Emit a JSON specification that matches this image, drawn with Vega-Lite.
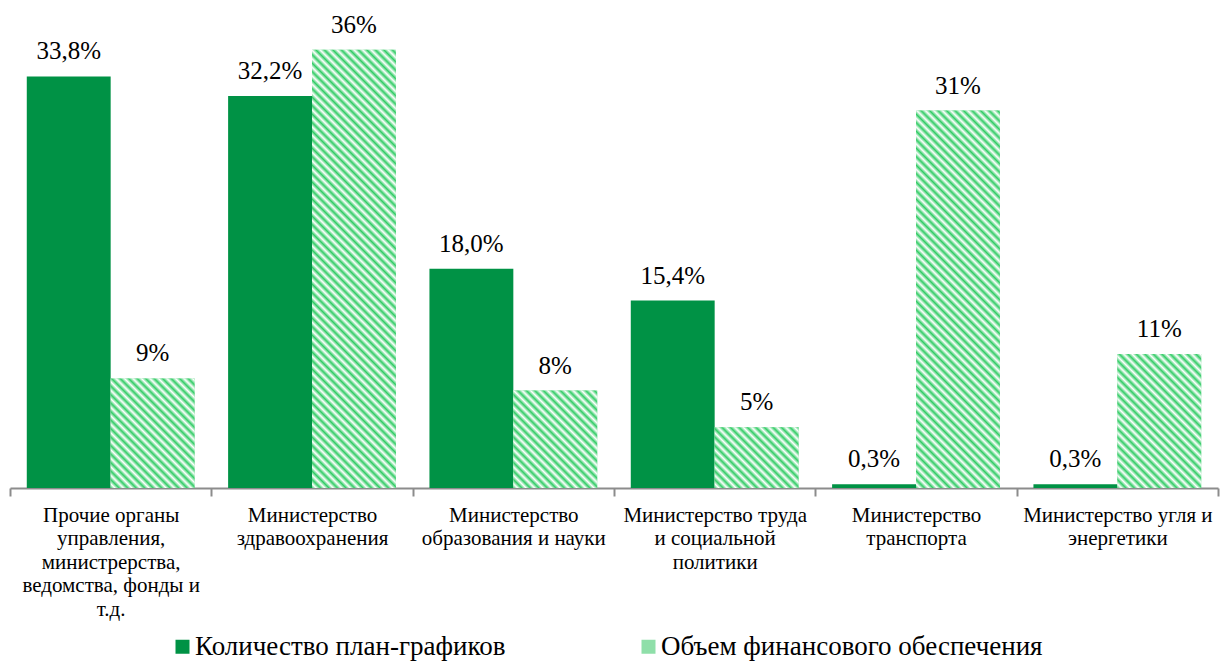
{
  "$schema": "https://vega.github.io/schema/vega-lite/v6.json",
  "autosize": {"type": "none"},
  "padding": {"left": 10, "top": 1, "right": 14, "bottom": 173},
  "width": 1208,
  "height": 487,
  "background": "white",
  "config": {
    "view": {"stroke": null},
    "font": "Liberation Serif"
  },
  "data": {
    "values": [
      {"category": "Прочие органы|управления,|министрерства,|ведомства, фонды и|т.д.", "series": "Количество план-графиков", "value": 33.8, "label": "33,8%"},
      {"category": "Прочие органы|управления,|министрерства,|ведомства, фонды и|т.д.", "series": "Объем финансового обеспечения", "value": 9, "label": "9%"},
      {"category": "Министерство|здравоохранения", "series": "Количество план-графиков", "value": 32.2, "label": "32,2%"},
      {"category": "Министерство|здравоохранения", "series": "Объем финансового обеспечения", "value": 36, "label": "36%"},
      {"category": "Министерство|образования и науки", "series": "Количество план-графиков", "value": 18.0, "label": "18,0%"},
      {"category": "Министерство|образования и науки", "series": "Объем финансового обеспечения", "value": 8, "label": "8%"},
      {"category": "Министерство труда|и социальной|политики", "series": "Количество план-графиков", "value": 15.4, "label": "15,4%"},
      {"category": "Министерство труда|и социальной|политики", "series": "Объем финансового обеспечения", "value": 5, "label": "5%"},
      {"category": "Министерство|транспорта", "series": "Количество план-графиков", "value": 0.3, "label": "0,3%"},
      {"category": "Министерство|транспорта", "series": "Объем финансового обеспечения", "value": 31, "label": "31%"},
      {"category": "Министерство угля и|энергетики", "series": "Количество план-графиков", "value": 0.3, "label": "0,3%"},
      {"category": "Министерство угля и|энергетики", "series": "Объем финансового обеспечения", "value": 11, "label": "11%"}
    ]
  },
  "encoding": {
    "x": {
      "field": "category", "type": "nominal", "sort": null,
      "scale": {"paddingInner": 0, "paddingOuter": 0},
      "axis": {
        "title": null, "labelAngle": 0,
        "labelExpr": "split(datum.label, '|')",
        "labelFont": "Liberation Serif",
        "labelFontSize": 21, "labelColor": "#000000",
        "labelLineHeight": 23.5, "labelPadding": 8, "labelLimit": 0,
        "tickBand": "extent", "tickSize": 8, "tickColor": "#8c8c8c", "tickWidth": 2,
        "domainColor": "#8c8c8c", "domainWidth": 2
      }
    },
    "xOffset": {"field": "series", "type": "nominal", "sort": null, "scale": {"paddingInner": 0, "paddingOuter": 0.2}},
    "y": {
      "field": "value", "type": "quantitative",
      "scale": {"domain": [0, 40], "nice": false},
      "axis": null
    }
  },
  "layer": [
    {
      "mark": {"type": "bar"},
      "encoding": {
        "color": {
          "field": "series", "type": "nominal", "sort": null,
          "scale": {"domain": ["Количество план-графиков", "Объем финансового обеспечения"], "range": ["#009245", "#8fdfa9"]},
          "legend": {
            "title": null, "orient": "none", "direction": "horizontal",
            "legendX": 159, "legendY": 632,
            "symbolType": "square", "symbolSize": 196, "symbolStrokeWidth": 0,
            "labelFont": "Liberation Serif",
            "labelFontSize": 27, "labelColor": "#000000",
            "labelOffset": -1, "columnPadding": 129, "labelLimit": 0
          }
        }
      }
    },
    {
      "transform": [{"filter": {"and": [{"field": "series", "equal": "Объем финансового обеспечения"}, {"field": "category", "equal": "Прочие органы|управления,|министрерства,|ведомства, фонды и|т.д."}]}}],
      "mark": {"type": "bar", "fill": {"gradient": "linear", "x1": 0, "y1": 1, "x2": 3.7443, "y2": -3.8907, "stops": [
        {"offset": 0, "color": "#3c6"}, {"offset": 0.005, "color": "#fff"}, {"offset": 0.01, "color": "#3c6"}, {"offset": 0.015, "color": "#fff"},
        {"offset": 0.02, "color": "#3c6"}, {"offset": 0.025, "color": "#fff"}, {"offset": 0.03, "color": "#3c6"}, {"offset": 0.035, "color": "#fff"},
        {"offset": 0.04, "color": "#3c6"}, {"offset": 0.045, "color": "#fff"}, {"offset": 0.05, "color": "#3c6"}, {"offset": 0.055, "color": "#fff"},
        {"offset": 0.06, "color": "#3c6"}, {"offset": 0.065, "color": "#fff"}, {"offset": 0.07, "color": "#3c6"}, {"offset": 0.075, "color": "#fff"},
        {"offset": 0.08, "color": "#3c6"}, {"offset": 0.085, "color": "#fff"}, {"offset": 0.09, "color": "#3c6"}, {"offset": 0.095, "color": "#fff"},
        {"offset": 0.1, "color": "#3c6"}, {"offset": 0.105, "color": "#fff"}, {"offset": 0.11, "color": "#3c6"}, {"offset": 0.115, "color": "#fff"},
        {"offset": 0.12, "color": "#3c6"}, {"offset": 0.125, "color": "#fff"}, {"offset": 0.13, "color": "#3c6"}, {"offset": 0.135, "color": "#fff"},
        {"offset": 0.14, "color": "#3c6"}, {"offset": 0.145, "color": "#fff"}, {"offset": 0.15, "color": "#3c6"}, {"offset": 0.155, "color": "#fff"},
        {"offset": 0.16, "color": "#3c6"}, {"offset": 0.165, "color": "#fff"}, {"offset": 0.17, "color": "#3c6"}, {"offset": 0.175, "color": "#fff"},
        {"offset": 0.18, "color": "#3c6"}, {"offset": 0.185, "color": "#fff"}, {"offset": 0.19, "color": "#3c6"}, {"offset": 0.195, "color": "#fff"},
        {"offset": 0.2, "color": "#3c6"}, {"offset": 0.205, "color": "#fff"}, {"offset": 0.21, "color": "#3c6"}, {"offset": 0.215, "color": "#fff"},
        {"offset": 0.22, "color": "#3c6"}, {"offset": 0.225, "color": "#fff"}, {"offset": 0.23, "color": "#3c6"}, {"offset": 0.235, "color": "#fff"}
      ]}}
    },
    {
      "transform": [{"filter": {"and": [{"field": "series", "equal": "Объем финансового обеспечения"}, {"field": "category", "equal": "Министерство|здравоохранения"}]}}],
      "mark": {"type": "bar", "fill": {"gradient": "linear", "x1": 0, "y1": 1, "x2": 0.35807, "y2": -0.8708, "stops": [
        {"offset": 0, "color": "#3c6"}, {"offset": 0.005, "color": "#fff"}, {"offset": 0.01, "color": "#3c6"}, {"offset": 0.015, "color": "#fff"},
        {"offset": 0.02, "color": "#3c6"}, {"offset": 0.025, "color": "#fff"}, {"offset": 0.03, "color": "#3c6"}, {"offset": 0.035, "color": "#fff"},
        {"offset": 0.04, "color": "#3c6"}, {"offset": 0.045, "color": "#fff"}, {"offset": 0.05, "color": "#3c6"}, {"offset": 0.055, "color": "#fff"},
        {"offset": 0.06, "color": "#3c6"}, {"offset": 0.065, "color": "#fff"}, {"offset": 0.07, "color": "#3c6"}, {"offset": 0.075, "color": "#fff"},
        {"offset": 0.08, "color": "#3c6"}, {"offset": 0.085, "color": "#fff"}, {"offset": 0.09, "color": "#3c6"}, {"offset": 0.095, "color": "#fff"},
        {"offset": 0.1, "color": "#3c6"}, {"offset": 0.105, "color": "#fff"}, {"offset": 0.11, "color": "#3c6"}, {"offset": 0.115, "color": "#fff"},
        {"offset": 0.12, "color": "#3c6"}, {"offset": 0.125, "color": "#fff"}, {"offset": 0.13, "color": "#3c6"}, {"offset": 0.135, "color": "#fff"},
        {"offset": 0.14, "color": "#3c6"}, {"offset": 0.145, "color": "#fff"}, {"offset": 0.15, "color": "#3c6"}, {"offset": 0.155, "color": "#fff"},
        {"offset": 0.16, "color": "#3c6"}, {"offset": 0.165, "color": "#fff"}, {"offset": 0.17, "color": "#3c6"}, {"offset": 0.175, "color": "#fff"},
        {"offset": 0.18, "color": "#3c6"}, {"offset": 0.185, "color": "#fff"}, {"offset": 0.19, "color": "#3c6"}, {"offset": 0.195, "color": "#fff"},
        {"offset": 0.2, "color": "#3c6"}, {"offset": 0.205, "color": "#fff"}, {"offset": 0.21, "color": "#3c6"}, {"offset": 0.215, "color": "#fff"},
        {"offset": 0.22, "color": "#3c6"}, {"offset": 0.225, "color": "#fff"}, {"offset": 0.23, "color": "#3c6"}, {"offset": 0.235, "color": "#fff"},
        {"offset": 0.24, "color": "#3c6"}, {"offset": 0.245, "color": "#fff"}, {"offset": 0.25, "color": "#3c6"}, {"offset": 0.255, "color": "#fff"},
        {"offset": 0.26, "color": "#3c6"}, {"offset": 0.265, "color": "#fff"}, {"offset": 0.27, "color": "#3c6"}, {"offset": 0.275, "color": "#fff"},
        {"offset": 0.28, "color": "#3c6"}, {"offset": 0.285, "color": "#fff"}, {"offset": 0.29, "color": "#3c6"}, {"offset": 0.295, "color": "#fff"},
        {"offset": 0.3, "color": "#3c6"}, {"offset": 0.305, "color": "#fff"}, {"offset": 0.31, "color": "#3c6"}, {"offset": 0.315, "color": "#fff"},
        {"offset": 0.32, "color": "#3c6"}, {"offset": 0.325, "color": "#fff"}, {"offset": 0.33, "color": "#3c6"}, {"offset": 0.335, "color": "#fff"},
        {"offset": 0.34, "color": "#3c6"}, {"offset": 0.345, "color": "#fff"}, {"offset": 0.35, "color": "#3c6"}, {"offset": 0.355, "color": "#fff"},
        {"offset": 0.36, "color": "#3c6"}, {"offset": 0.365, "color": "#fff"}, {"offset": 0.37, "color": "#3c6"}, {"offset": 0.375, "color": "#fff"},
        {"offset": 0.38, "color": "#3c6"}, {"offset": 0.385, "color": "#fff"}, {"offset": 0.39, "color": "#3c6"}, {"offset": 0.395, "color": "#fff"},
        {"offset": 0.4, "color": "#3c6"}, {"offset": 0.405, "color": "#fff"}, {"offset": 0.41, "color": "#3c6"}, {"offset": 0.415, "color": "#fff"},
        {"offset": 0.42, "color": "#3c6"}, {"offset": 0.425, "color": "#fff"}, {"offset": 0.43, "color": "#3c6"}, {"offset": 0.435, "color": "#fff"},
        {"offset": 0.44, "color": "#3c6"}, {"offset": 0.445, "color": "#fff"}, {"offset": 0.45, "color": "#3c6"}, {"offset": 0.455, "color": "#fff"},
        {"offset": 0.46, "color": "#3c6"}, {"offset": 0.465, "color": "#fff"}, {"offset": 0.47, "color": "#3c6"}, {"offset": 0.475, "color": "#fff"},
        {"offset": 0.48, "color": "#3c6"}, {"offset": 0.485, "color": "#fff"}, {"offset": 0.49, "color": "#3c6"}, {"offset": 0.495, "color": "#fff"},
        {"offset": 0.5, "color": "#3c6"}, {"offset": 0.505, "color": "#fff"}, {"offset": 0.51, "color": "#3c6"}, {"offset": 0.515, "color": "#fff"},
        {"offset": 0.52, "color": "#3c6"}, {"offset": 0.525, "color": "#fff"}, {"offset": 0.53, "color": "#3c6"}, {"offset": 0.535, "color": "#fff"},
        {"offset": 0.54, "color": "#3c6"}, {"offset": 0.545, "color": "#fff"}, {"offset": 0.55, "color": "#3c6"}, {"offset": 0.555, "color": "#fff"},
        {"offset": 0.56, "color": "#3c6"}, {"offset": 0.565, "color": "#fff"}, {"offset": 0.57, "color": "#3c6"}, {"offset": 0.575, "color": "#fff"},
        {"offset": 0.58, "color": "#3c6"}, {"offset": 0.585, "color": "#fff"}, {"offset": 0.59, "color": "#3c6"}, {"offset": 0.595, "color": "#fff"},
        {"offset": 0.6, "color": "#3c6"}, {"offset": 0.605, "color": "#fff"}, {"offset": 0.61, "color": "#3c6"}, {"offset": 0.615, "color": "#fff"},
        {"offset": 0.62, "color": "#3c6"}
      ]}}
    },
    {
      "transform": [{"filter": {"and": [{"field": "series", "equal": "Объем финансового обеспечения"}, {"field": "category", "equal": "Министерство|образования и науки"}]}}],
      "mark": {"type": "bar", "fill": {"gradient": "linear", "x1": 0, "y1": 1, "x2": 4.3153, "y2": -4.0103, "stops": [
        {"offset": 0, "color": "#3c6"}, {"offset": 0.005, "color": "#fff"}, {"offset": 0.01, "color": "#3c6"}, {"offset": 0.015, "color": "#fff"},
        {"offset": 0.02, "color": "#3c6"}, {"offset": 0.025, "color": "#fff"}, {"offset": 0.03, "color": "#3c6"}, {"offset": 0.035, "color": "#fff"},
        {"offset": 0.04, "color": "#3c6"}, {"offset": 0.045, "color": "#fff"}, {"offset": 0.05, "color": "#3c6"}, {"offset": 0.055, "color": "#fff"},
        {"offset": 0.06, "color": "#3c6"}, {"offset": 0.065, "color": "#fff"}, {"offset": 0.07, "color": "#3c6"}, {"offset": 0.075, "color": "#fff"},
        {"offset": 0.08, "color": "#3c6"}, {"offset": 0.085, "color": "#fff"}, {"offset": 0.09, "color": "#3c6"}, {"offset": 0.095, "color": "#fff"},
        {"offset": 0.1, "color": "#3c6"}, {"offset": 0.105, "color": "#fff"}, {"offset": 0.11, "color": "#3c6"}, {"offset": 0.115, "color": "#fff"},
        {"offset": 0.12, "color": "#3c6"}, {"offset": 0.125, "color": "#fff"}, {"offset": 0.13, "color": "#3c6"}, {"offset": 0.135, "color": "#fff"},
        {"offset": 0.14, "color": "#3c6"}, {"offset": 0.145, "color": "#fff"}, {"offset": 0.15, "color": "#3c6"}, {"offset": 0.155, "color": "#fff"},
        {"offset": 0.16, "color": "#3c6"}, {"offset": 0.165, "color": "#fff"}, {"offset": 0.17, "color": "#3c6"}, {"offset": 0.175, "color": "#fff"},
        {"offset": 0.18, "color": "#3c6"}, {"offset": 0.185, "color": "#fff"}, {"offset": 0.19, "color": "#3c6"}, {"offset": 0.195, "color": "#fff"},
        {"offset": 0.2, "color": "#3c6"}, {"offset": 0.205, "color": "#fff"}, {"offset": 0.21, "color": "#3c6"}, {"offset": 0.215, "color": "#fff"}
      ]}}
    },
    {
      "transform": [{"filter": {"and": [{"field": "series", "equal": "Объем финансового обеспечения"}, {"field": "category", "equal": "Министерство труда|и социальной|политики"}]}}],
      "mark": {"type": "bar", "fill": {"gradient": "linear", "x1": 0, "y1": 1, "x2": 6.6373, "y2": -3.8164, "stops": [
        {"offset": 0, "color": "#3c6"}, {"offset": 0.005, "color": "#fff"}, {"offset": 0.01, "color": "#3c6"}, {"offset": 0.015, "color": "#fff"},
        {"offset": 0.02, "color": "#3c6"}, {"offset": 0.025, "color": "#fff"}, {"offset": 0.03, "color": "#3c6"}, {"offset": 0.035, "color": "#fff"},
        {"offset": 0.04, "color": "#3c6"}, {"offset": 0.045, "color": "#fff"}, {"offset": 0.05, "color": "#3c6"}, {"offset": 0.055, "color": "#fff"},
        {"offset": 0.06, "color": "#3c6"}, {"offset": 0.065, "color": "#fff"}, {"offset": 0.07, "color": "#3c6"}, {"offset": 0.075, "color": "#fff"},
        {"offset": 0.08, "color": "#3c6"}, {"offset": 0.085, "color": "#fff"}, {"offset": 0.09, "color": "#3c6"}, {"offset": 0.095, "color": "#fff"},
        {"offset": 0.1, "color": "#3c6"}, {"offset": 0.105, "color": "#fff"}, {"offset": 0.11, "color": "#3c6"}, {"offset": 0.115, "color": "#fff"},
        {"offset": 0.12, "color": "#3c6"}, {"offset": 0.125, "color": "#fff"}, {"offset": 0.13, "color": "#3c6"}, {"offset": 0.135, "color": "#fff"},
        {"offset": 0.14, "color": "#3c6"}, {"offset": 0.145, "color": "#fff"}, {"offset": 0.15, "color": "#3c6"}, {"offset": 0.155, "color": "#fff"},
        {"offset": 0.16, "color": "#3c6"}, {"offset": 0.165, "color": "#fff"}, {"offset": 0.17, "color": "#3c6"}, {"offset": 0.175, "color": "#fff"}
      ]}}
    },
    {
      "transform": [{"filter": {"and": [{"field": "series", "equal": "Объем финансового обеспечения"}, {"field": "category", "equal": "Министерство|транспорта"}]}}],
      "mark": {"type": "bar", "fill": {"gradient": "linear", "x1": 0, "y1": 1, "x2": 0.47701, "y2": -1.14608, "stops": [
        {"offset": 0, "color": "#3c6"}, {"offset": 0.005, "color": "#fff"}, {"offset": 0.01, "color": "#3c6"}, {"offset": 0.015, "color": "#fff"},
        {"offset": 0.02, "color": "#3c6"}, {"offset": 0.025, "color": "#fff"}, {"offset": 0.03, "color": "#3c6"}, {"offset": 0.035, "color": "#fff"},
        {"offset": 0.04, "color": "#3c6"}, {"offset": 0.045, "color": "#fff"}, {"offset": 0.05, "color": "#3c6"}, {"offset": 0.055, "color": "#fff"},
        {"offset": 0.06, "color": "#3c6"}, {"offset": 0.065, "color": "#fff"}, {"offset": 0.07, "color": "#3c6"}, {"offset": 0.075, "color": "#fff"},
        {"offset": 0.08, "color": "#3c6"}, {"offset": 0.085, "color": "#fff"}, {"offset": 0.09, "color": "#3c6"}, {"offset": 0.095, "color": "#fff"},
        {"offset": 0.1, "color": "#3c6"}, {"offset": 0.105, "color": "#fff"}, {"offset": 0.11, "color": "#3c6"}, {"offset": 0.115, "color": "#fff"},
        {"offset": 0.12, "color": "#3c6"}, {"offset": 0.125, "color": "#fff"}, {"offset": 0.13, "color": "#3c6"}, {"offset": 0.135, "color": "#fff"},
        {"offset": 0.14, "color": "#3c6"}, {"offset": 0.145, "color": "#fff"}, {"offset": 0.15, "color": "#3c6"}, {"offset": 0.155, "color": "#fff"},
        {"offset": 0.16, "color": "#3c6"}, {"offset": 0.165, "color": "#fff"}, {"offset": 0.17, "color": "#3c6"}, {"offset": 0.175, "color": "#fff"},
        {"offset": 0.18, "color": "#3c6"}, {"offset": 0.185, "color": "#fff"}, {"offset": 0.19, "color": "#3c6"}, {"offset": 0.195, "color": "#fff"},
        {"offset": 0.2, "color": "#3c6"}, {"offset": 0.205, "color": "#fff"}, {"offset": 0.21, "color": "#3c6"}, {"offset": 0.215, "color": "#fff"},
        {"offset": 0.22, "color": "#3c6"}, {"offset": 0.225, "color": "#fff"}, {"offset": 0.23, "color": "#3c6"}, {"offset": 0.235, "color": "#fff"},
        {"offset": 0.24, "color": "#3c6"}, {"offset": 0.245, "color": "#fff"}, {"offset": 0.25, "color": "#3c6"}, {"offset": 0.255, "color": "#fff"},
        {"offset": 0.26, "color": "#3c6"}, {"offset": 0.265, "color": "#fff"}, {"offset": 0.27, "color": "#3c6"}, {"offset": 0.275, "color": "#fff"},
        {"offset": 0.28, "color": "#3c6"}, {"offset": 0.285, "color": "#fff"}, {"offset": 0.29, "color": "#3c6"}, {"offset": 0.295, "color": "#fff"},
        {"offset": 0.3, "color": "#3c6"}, {"offset": 0.305, "color": "#fff"}, {"offset": 0.31, "color": "#3c6"}, {"offset": 0.315, "color": "#fff"},
        {"offset": 0.32, "color": "#3c6"}, {"offset": 0.325, "color": "#fff"}, {"offset": 0.33, "color": "#3c6"}, {"offset": 0.335, "color": "#fff"},
        {"offset": 0.34, "color": "#3c6"}, {"offset": 0.345, "color": "#fff"}, {"offset": 0.35, "color": "#3c6"}, {"offset": 0.355, "color": "#fff"},
        {"offset": 0.36, "color": "#3c6"}, {"offset": 0.365, "color": "#fff"}, {"offset": 0.37, "color": "#3c6"}, {"offset": 0.375, "color": "#fff"},
        {"offset": 0.38, "color": "#3c6"}, {"offset": 0.385, "color": "#fff"}, {"offset": 0.39, "color": "#3c6"}, {"offset": 0.395, "color": "#fff"},
        {"offset": 0.4, "color": "#3c6"}, {"offset": 0.405, "color": "#fff"}, {"offset": 0.41, "color": "#3c6"}, {"offset": 0.415, "color": "#fff"},
        {"offset": 0.42, "color": "#3c6"}, {"offset": 0.425, "color": "#fff"}, {"offset": 0.43, "color": "#3c6"}, {"offset": 0.435, "color": "#fff"},
        {"offset": 0.44, "color": "#3c6"}, {"offset": 0.445, "color": "#fff"}, {"offset": 0.45, "color": "#3c6"}, {"offset": 0.455, "color": "#fff"},
        {"offset": 0.46, "color": "#3c6"}, {"offset": 0.465, "color": "#fff"}, {"offset": 0.47, "color": "#3c6"}, {"offset": 0.475, "color": "#fff"},
        {"offset": 0.48, "color": "#3c6"}, {"offset": 0.485, "color": "#fff"}, {"offset": 0.49, "color": "#3c6"}, {"offset": 0.495, "color": "#fff"},
        {"offset": 0.5, "color": "#3c6"}, {"offset": 0.505, "color": "#fff"}, {"offset": 0.51, "color": "#3c6"}, {"offset": 0.515, "color": "#fff"},
        {"offset": 0.52, "color": "#3c6"}, {"offset": 0.525, "color": "#fff"}, {"offset": 0.53, "color": "#3c6"}, {"offset": 0.535, "color": "#fff"},
        {"offset": 0.54, "color": "#3c6"}, {"offset": 0.545, "color": "#fff"}, {"offset": 0.55, "color": "#3c6"}
      ]}}
    },
    {
      "transform": [{"filter": {"and": [{"field": "series", "equal": "Объем финансового обеспечения"}, {"field": "category", "equal": "Министерство угля и|энергетики"}]}}],
      "mark": {"type": "bar", "fill": {"gradient": "linear", "x1": 0, "y1": 1, "x2": 2.8553, "y2": -3.5583, "stops": [
        {"offset": 0, "color": "#3c6"}, {"offset": 0.005, "color": "#fff"}, {"offset": 0.01, "color": "#3c6"}, {"offset": 0.015, "color": "#fff"},
        {"offset": 0.02, "color": "#3c6"}, {"offset": 0.025, "color": "#fff"}, {"offset": 0.03, "color": "#3c6"}, {"offset": 0.035, "color": "#fff"},
        {"offset": 0.04, "color": "#3c6"}, {"offset": 0.045, "color": "#fff"}, {"offset": 0.05, "color": "#3c6"}, {"offset": 0.055, "color": "#fff"},
        {"offset": 0.06, "color": "#3c6"}, {"offset": 0.065, "color": "#fff"}, {"offset": 0.07, "color": "#3c6"}, {"offset": 0.075, "color": "#fff"},
        {"offset": 0.08, "color": "#3c6"}, {"offset": 0.085, "color": "#fff"}, {"offset": 0.09, "color": "#3c6"}, {"offset": 0.095, "color": "#fff"},
        {"offset": 0.1, "color": "#3c6"}, {"offset": 0.105, "color": "#fff"}, {"offset": 0.11, "color": "#3c6"}, {"offset": 0.115, "color": "#fff"},
        {"offset": 0.12, "color": "#3c6"}, {"offset": 0.125, "color": "#fff"}, {"offset": 0.13, "color": "#3c6"}, {"offset": 0.135, "color": "#fff"},
        {"offset": 0.14, "color": "#3c6"}, {"offset": 0.145, "color": "#fff"}, {"offset": 0.15, "color": "#3c6"}, {"offset": 0.155, "color": "#fff"},
        {"offset": 0.16, "color": "#3c6"}, {"offset": 0.165, "color": "#fff"}, {"offset": 0.17, "color": "#3c6"}, {"offset": 0.175, "color": "#fff"},
        {"offset": 0.18, "color": "#3c6"}, {"offset": 0.185, "color": "#fff"}, {"offset": 0.19, "color": "#3c6"}, {"offset": 0.195, "color": "#fff"},
        {"offset": 0.2, "color": "#3c6"}, {"offset": 0.205, "color": "#fff"}, {"offset": 0.21, "color": "#3c6"}, {"offset": 0.215, "color": "#fff"},
        {"offset": 0.22, "color": "#3c6"}, {"offset": 0.225, "color": "#fff"}, {"offset": 0.23, "color": "#3c6"}, {"offset": 0.235, "color": "#fff"},
        {"offset": 0.24, "color": "#3c6"}, {"offset": 0.245, "color": "#fff"}, {"offset": 0.25, "color": "#3c6"}, {"offset": 0.255, "color": "#fff"},
        {"offset": 0.26, "color": "#3c6"}
      ]}}
    },
    {
      "mark": {"type": "text", "baseline": "bottom", "dy": -12, "fontSize": 25, "font": "Liberation Serif", "color": "#000000"},
      "encoding": {"text": {"field": "label"}}
    }
  ]
}
